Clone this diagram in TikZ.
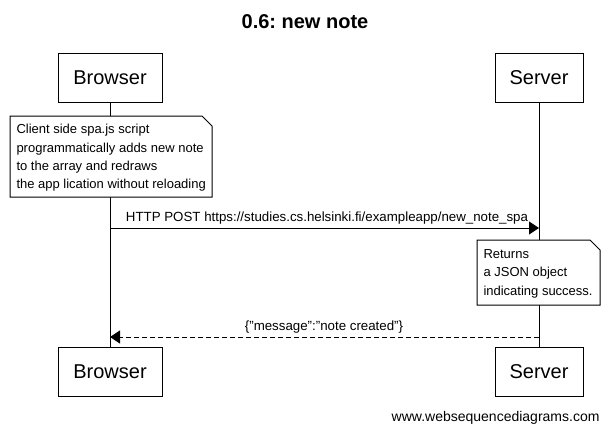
\documentclass[tikz,border=0pt]{standalone}
\usepackage{fontspec}
\setmainfont{Liberation Sans}
\frenchspacing
\usetikzlibrary{arrows.meta}
\begin{document}
\begin{tikzpicture}[x=1pt,y=-1pt,line width=1pt,
  actor/.style={draw,fill=white,minimum width=#1,minimum height=49pt,inner sep=0pt,font=\fontsize{20}{24}\selectfont},
  msg/.style={-{Triangle[length=10pt,width=13pt]}},
  lbl/.style={font=\fontsize{13.3}{16}\selectfont,inner sep=0pt},
  notetext/.style={font=\fontsize{13}{18.3}\selectfont,align=left,inner sep=0pt}]
\useasboundingbox (0,0) rectangle (610,432);
% title
\node[font=\bfseries\fontsize{20}{24}\selectfont] (title) at (305,22) {0.6: new note};
% actors
\node[actor=104pt] (bt) at (110,77.5) {Browser};
\node[actor=88pt] (st) at (539,77.5) {Server};
\node[actor=104pt] (bb) at (110,371.5) {Browser};
\node[actor=88pt] (sb) at (539,371.5) {Server};
% lifelines
\draw (bt.south) -- (bb.north);
\draw (st.south) -- (sb.north);
% note 1
\draw[fill=white] (10,116) -- (202,116) -- (212,126) -- (212,197) -- (10,197) -- cycle;
\node[notetext,anchor=north west] (n1) at (16,124) {Client side spa.js script\\programmatically adds new note\\to the array and redraws\\the app lication without reloading};
% message 1
\coordinate (m1a) at (110,228);
\coordinate (m1b) at (539,228);
\draw[msg] (m1a) -- (m1b);
\node[lbl,anchor=base] (l1) at (327,221) {HTTP POST https://studies.cs.helsinki.fi/exampleapp/new\_note\_spa};
% note 2
\draw[fill=white] (477,240) -- (590,240) -- (600,250) -- (600,305) -- (477,305) -- cycle;
\node[notetext,anchor=north west] (n2) at (483,249) {Returns\\a JSON object\\indicating success.};
% message 2
\coordinate (m2a) at (539,337);
\coordinate (m2b) at (110,337);
\draw[msg,dash pattern=on 5pt off 3pt] (m2a) -- (m2b);
\node[lbl,anchor=base] (l2) at (324,330) {\{"message":"note created"\}};
% footer
\node[font=\fontsize{14}{17}\selectfont,anchor=base east,inner sep=0pt] (foot) at (600,421) {www.websequencediagrams.com};
\end{tikzpicture}
\end{document}
